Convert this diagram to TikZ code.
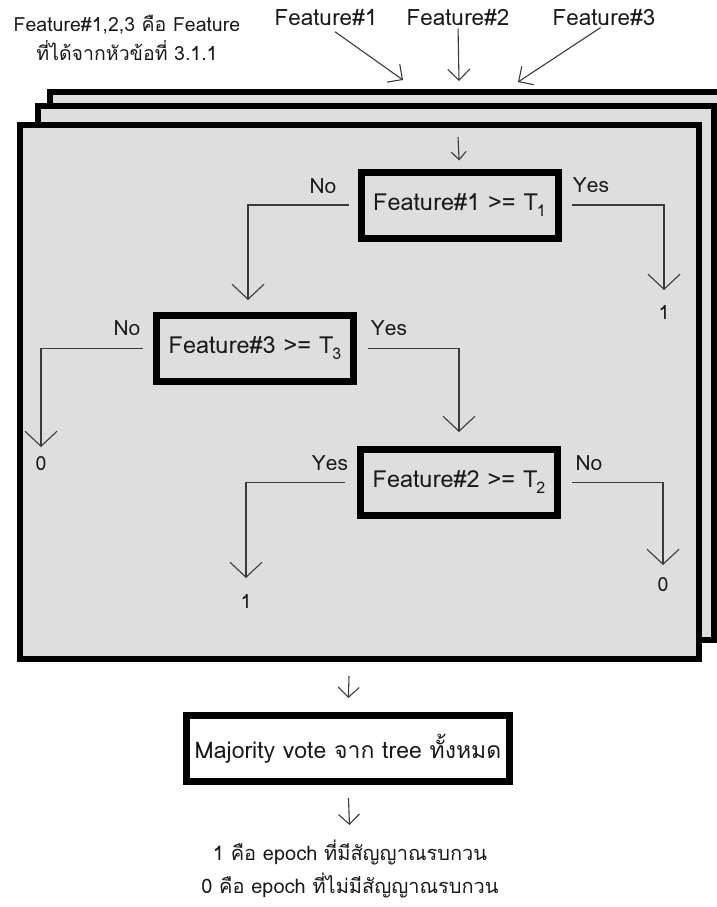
\documentclass[tikz,border=0pt]{standalone}
\usepackage{fontspec}
\setmainfont[Script=Thai]{Loma}
\usetikzlibrary{arrows.meta}

\definecolor{panelgray}{HTML}{DEDEDE}
\definecolor{wire}{HTML}{3A3A3A}
\definecolor{ink}{HTML}{1A1A1A}

% threshold index, set low and tucked under the T
\newcommand\thrsub[1]{\kern-1pt\raisebox{-6pt}{\fontsize{16}{16}\selectfont #1}}

\tikzset{
  x=1pt, y=-1pt,
  panel/.style={draw=black, line width=6pt, fill=panelgray},
  testbox/.style={draw=black, line width=7pt, fill=panelgray, inner sep=0pt,
    minimum width=197pt, minimum height=66pt, text=ink,
    font=\fontsize{23.5}{28}\selectfont},
  votebox/.style={testbox, fill=white, minimum width=323pt},
  txt/.style={text=ink, inner sep=0pt, font=\fontsize{22.5}{27}\selectfont},
  lab/.style={text=ink, inner sep=0pt, font=\fontsize{21}{25}\selectfont},
  leaf/.style={text=ink, inner sep=0pt, anchor=north, font=\fontsize{19.5}{22}\selectfont},
  link/.style={draw=wire, line width=1.1pt},
  flow/.style={link, -{Straight Barb[length=15pt, width=32pt]}},
  feed/.style={link, -{Straight Barb[length=11pt, width=22pt]}},
  tick/.style={link, -{Straight Barb[length=8pt, width=15pt]}},
}

\begin{document}
\begin{tikzpicture}
\useasboundingbox (0,0) rectangle (717,907);
\clip (0,0) rectangle (717,907);

% stacked tree panels
\draw[panel] (50,92) rectangle (760,620);
\draw[panel] (38,106) rectangle (714,640);
\draw[panel] (20,125) rectangle (699,659);

% note and feature inputs
\node[txt, align=center, font=\fontsize{19.5}{29}\selectfont] (note) at (127,38)
  {Feature\#1,2,3 คือ Feature\\ที่ได้จากหัวข้อที่ 3.1.1};
\node[txt] (f1lab) at (326,17) {Feature\#1};
\node[txt] (f2lab) at (458,17) {Feature\#2};
\node[txt] (f3lab) at (604,17) {Feature\#3};
\coordinate (t1) at (403,80);
\coordinate (t2) at (459,81);
\coordinate (t3) at (518,82);
\draw[feed, shorten <=11pt] (f1lab.south) -- (t1);
\draw[feed, shorten <=3pt] (f2lab.south) -- (t2);
\draw[feed, shorten <=4pt] (f3lab.south) -- (t3);

% decision nodes
\node[testbox] (n1) at (459.5,205) {Feature\#1 >= T\thrsub{1}};
\node[testbox] (n3) at (255,348.5) {Feature\#3 >= T\thrsub{3}};
\node[testbox] (n2) at (459,482.5) {Feature\#2 >= T\thrsub{2}};

% leaves
\node[leaf] (l1) at (664,305) {1};
\node[leaf] (l3) at (41,456) {0};
\node[leaf] (l2a) at (246,594) {1};
\node[leaf] (l2b) at (663,577) {0};

% branch labels
\node[lab] at (323,186) {No};
\node[lab] at (591,185) {Yes};
\node[lab] at (127,328) {No};
\node[lab] at (389,328) {Yes};
\node[lab] at (330,463) {Yes};
\node[lab] at (589,463) {No};

% entry into the tree
\coordinate (in) at (458,137);
\draw[tick, shorten >=8pt] (in) -- (n1.north);

% branches
\draw[flow, shorten <=9pt, shorten >=12pt] (n1.west) -| ([xshift=-7pt]n3.north);
\draw[flow, shorten <=10pt, shorten >=15pt] (n1.east) -| (l1.north);
\draw[flow, shorten <=10pt, shorten >=9pt] (n3.west) -| (l3.north);
\draw[flow, shorten <=11pt, shorten >=14pt] (n3.east) -| (n2.north);
\draw[flow, shorten <=12pt, shorten >=16pt] (n2.west) -| (l2a.north);
\draw[flow, shorten <=11pt, shorten >=12pt] (n2.east) -| (l2b.north);

% vote over all trees
\node[votebox, font=\fontsize{23}{28}\selectfont] (vote) at (348,748.5) {Majority vote จาก tree ทั้งหมด};
\coordinate (out) at (349,676);
\draw[tick, shorten >=14pt, -{Straight Barb[length=10pt, width=21pt]}] (out) -- (vote.north);

\node[txt, align=center, anchor=north, font=\fontsize{20}{33}\selectfont] (result) at (350,840)
  {1 คือ epoch ที่มีสัญญาณรบกวน\\0 คือ epoch ที่ไม่มีสัญญาณรบกวน};
\draw[tick, shorten <=13pt, shorten >=15pt, -{Straight Barb[length=10pt, width=21pt]}] (vote.south) -- (result.north);
\end{tikzpicture}
\end{document}
